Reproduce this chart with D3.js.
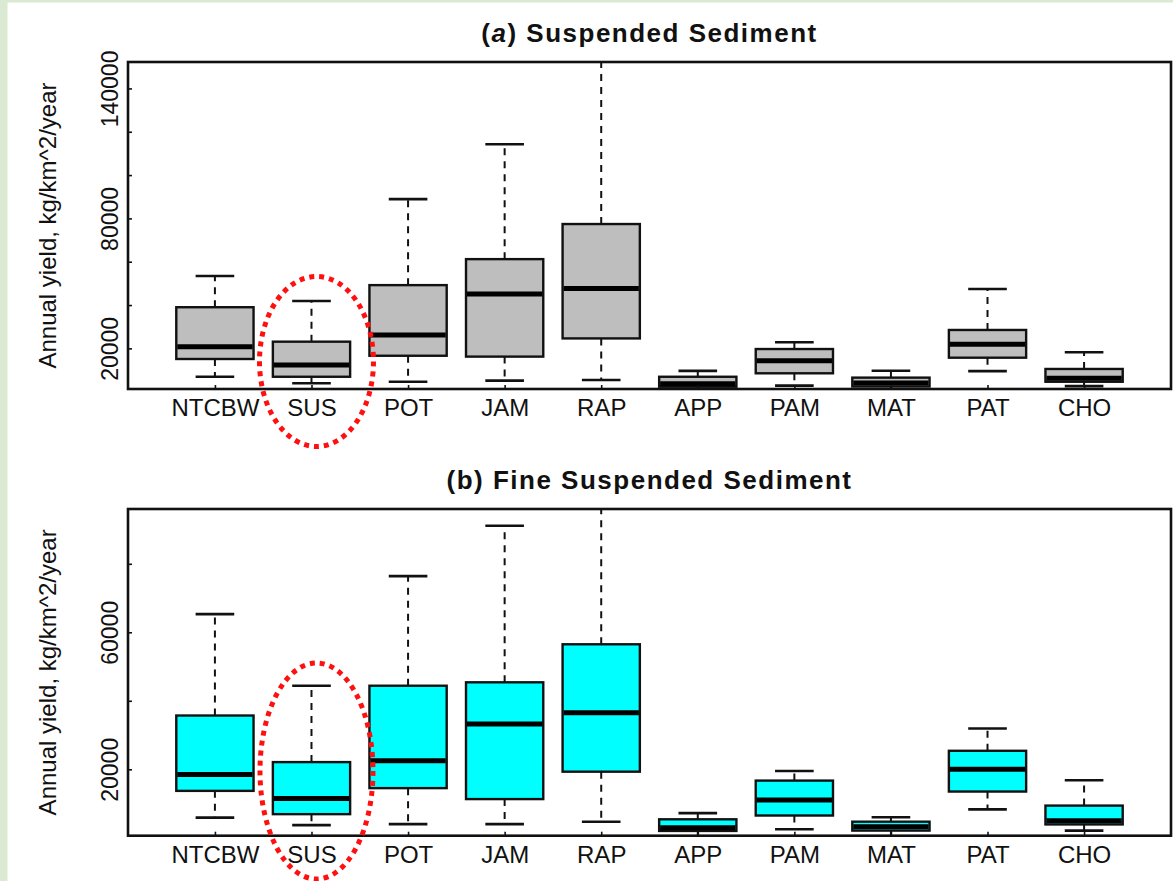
<!DOCTYPE html>
<html>
<head>
<meta charset="utf-8">
<script src="https://cdn.jsdelivr.net/npm/d3@7"></script>
<style>
  body { margin: 0; background: #fff; }
  svg { display: block; font-family: 'Liberation Sans', Arial, sans-serif; }
</style>
</head>
<body>
<div id="chart"></div>
<script>
'use strict'

const sites = ['NTCBW', 'SUS', 'POT', 'JAM', 'RAP', 'APP', 'PAM', 'MAT', 'PAT', 'CHO']

// (a) suspended sediment, kg/km^2/year
const ssLow = [6900, 3900, 4600, 5100, 5400, 600, 2800, 500, 9500, 2600]
const ssQ1 = [15100, 6900, 16600, 16200, 24600, 2300, 8500, 2400, 15700, 4600]
const ssMed = [20800, 12300, 26200, 45100, 47700, 3700, 14300, 4000, 21900, 6200]
const ssQ3 = [39000, 23100, 49200, 61200, 77400, 6900, 19700, 6500, 28500, 10500]
const ssHigh = [53400, 41900, 88900, 114200, 160000, 9600, 22800, 9700, 47400, 18200]

// (b) fine suspended sediment
const fsLow = [5900, 3700, 4000, 4000, 4700, 300, 2500, 300, 8300, 2100]
const fsQ1 = [13700, 6900, 14500, 11300, 19300, 2000, 6500, 2100, 13500, 3900]
const fsMed = [18500, 11500, 22500, 33200, 36500, 2900, 11000, 3200, 20000, 5000]
const fsQ3 = [35700, 22100, 44400, 45400, 56500, 5400, 16700, 4700, 25400, 9400]
const fsHigh = [65300, 44400, 76400, 91100, 110000, 7200, 19500, 6000, 31900, 16800]

const ssTicks = [20000, 40000, 60000, 80000, 100000, 120000, 140000]
const ssLabels = [20000, 80000, 140000]
const fsTicks = [20000, 40000, 60000, 80000]
const fsLabels = [20000, 60000]

const width = 1173
const height = 881

const svg = d3.select('#chart').append('svg')
  .attr('width', width)
  .attr('height', height)

// light green page border seen on the left and top
svg.append('rect').attr('x', 0).attr('y', 0).attr('width', width).attr('height', 2.5).attr('fill', '#d9e9d2')
svg.append('rect').attr('x', 0).attr('y', 0).attr('width', 7.5).attr('height', height).attr('fill', '#d9e9d2')

const left = 128
const right = 1171

const x = d3.scalePoint()
  .domain(sites)
  .range([left, right])
  .padding(0.9)

const boxW = x.step() * 0.8

const panels = [
  {
    id: 'a', top: 62, bottom: 389, domain: [1250, 152200],
    title: ['a', ' Suspended Sediment'], titleY: 42,
    low: ssLow, q1: ssQ1, med: ssMed, q3: ssQ3, high: ssHigh,
    ticks: ssTicks, labels: ssLabels, fill: '#bebebe',
    ring: { cy: 361.5, rx: 57, ry: 85 }
  },
  {
    id: 'b', top: 509, bottom: 835.7, domain: [610, 96000],
    title: ['b', ' Fine Suspended Sediment'], titleY: 489,
    low: fsLow, q1: fsQ1, med: fsMed, q3: fsQ3, high: fsHigh,
    ticks: fsTicks, labels: fsLabels, fill: '#00ffff',
    ring: { cy: 771, rx: 56.5, ry: 108 }
  }
]

panels.forEach(function (p) {
  const y = d3.scaleLinear().domain(p.domain).range([p.bottom, p.top])
  const g = svg.append('g')

  g.append('clipPath').attr('id', 'clip-' + p.id)
    .append('rect')
    .attr('x', left).attr('y', p.top)
    .attr('width', right - left).attr('height', p.bottom - p.top)

  const rows = sites.map(function (s, i) {
    return { site: s, low: p.low[i], q1: p.q1[i], med: p.med[i], q3: p.q3[i], high: p.high[i] }
  })

  const plot = g.append('g').attr('clip-path', 'url(#clip-' + p.id + ')')

  const box = plot.selectAll('g.box')
    .data(rows)
    .enter()
    .append('g')
    .attr('class', 'box')
    .attr('transform', d => 'translate(' + x(d.site) + ',0)')

  // whiskers (dashed)
  box.append('line')
    .attr('y1', d => y(d.q3)).attr('y2', d => y(d.high))
    .attr('stroke', '#111').attr('stroke-width', 2).attr('stroke-dasharray', '7 6')
  box.append('line')
    .attr('y1', d => y(d.q1)).attr('y2', d => y(d.low))
    .attr('stroke', '#111').attr('stroke-width', 2).attr('stroke-dasharray', '7 6')

  // caps
  box.selectAll('line.cap')
    .data(d => [d.low, d.high])
    .enter()
    .append('line')
    .attr('class', 'cap')
    .attr('x1', -boxW / 4).attr('x2', boxW / 4)
    .attr('y1', v => y(v)).attr('y2', v => y(v))
    .attr('stroke', '#111').attr('stroke-width', 2.6)

  box.append('rect')
    .attr('x', -boxW / 2).attr('width', boxW)
    .attr('y', d => y(d.q3))
    .attr('height', d => y(d.q1) - y(d.q3))
    .attr('fill', p.fill)
    .attr('stroke', '#111').attr('stroke-width', 2.4)

  box.append('line')
    .attr('x1', -boxW / 2 + 1).attr('x2', boxW / 2 - 1)
    .attr('y1', d => y(d.med)).attr('y2', d => y(d.med))
    .attr('stroke', '#000').attr('stroke-width', 5)

  // axes, ticks inward
  const yAxis = g.append('g')
    .attr('transform', 'translate(' + left + ',0)')
    .call(d3.axisLeft(y).tickValues(p.ticks).tickSize(-4)
      .tickFormat(d => p.labels.includes(d) ? d : ''))
  yAxis.select('.domain').remove()
  yAxis.selectAll('line').attr('stroke', '#111').attr('stroke-width', 1.6)
  yAxis.selectAll('text')
    .attr('x', 0).attr('dy', 0)
    .attr('transform', 'translate(-10,0) rotate(-90)')
    .attr('text-anchor', 'middle')
    .attr('fill', '#111')
    .style('font-size', '23px')
    .style('font-family', "'Liberation Sans', Arial, sans-serif")

  const xAxis = g.append('g')
    .attr('transform', 'translate(0,' + p.bottom + ')')
    .call(d3.axisBottom(x).tickSize(-4))
  xAxis.select('.domain').remove()
  xAxis.selectAll('line').attr('stroke', '#111').attr('stroke-width', 1.6)
  xAxis.selectAll('text')
    .attr('y', 27).attr('dy', 0)
    .attr('fill', '#111')
    .style('font-size', '24px')
    .style('font-family', "'Liberation Sans', Arial, sans-serif")

  g.append('rect')
    .attr('x', left).attr('y', p.top)
    .attr('width', right - left).attr('height', p.bottom - p.top)
    .attr('fill', 'none')
    .attr('stroke', '#111').attr('stroke-width', 2.6)

  const title = g.append('text')
    .attr('x', (left + right) / 2)
    .attr('y', p.titleY)
    .attr('text-anchor', 'middle')
    .style('font-size', '26px')
    .style('font-weight', 'bold')
    .style('letter-spacing', '1.5px')
    .attr('fill', '#111')
  title.append('tspan').text('(')
  title.append('tspan').text(p.title[0]).style('font-style', p.id === 'a' ? 'italic' : 'normal')
  title.append('tspan').text(')' + p.title[1])

  g.append('text')
    .attr('transform', 'translate(56,' + (p.top + p.bottom) / 2 + ') rotate(-90)')
    .attr('text-anchor', 'middle')
    .style('font-size', '24px')
    .attr('fill', '#111')
    .text('Annual yield, kg/km^2/year')

  // red dotted ring around SUS
  g.append('ellipse')
    .attr('cx', x('SUS') + 5)
    .attr('cy', p.ring.cy)
    .attr('rx', p.ring.rx)
    .attr('ry', p.ring.ry)
    .attr('fill', 'none')
    .attr('stroke', '#ff1010')
    .attr('stroke-width', 5)
    .attr('stroke-dasharray', '5 5')
})
</script>
</body>
</html>
